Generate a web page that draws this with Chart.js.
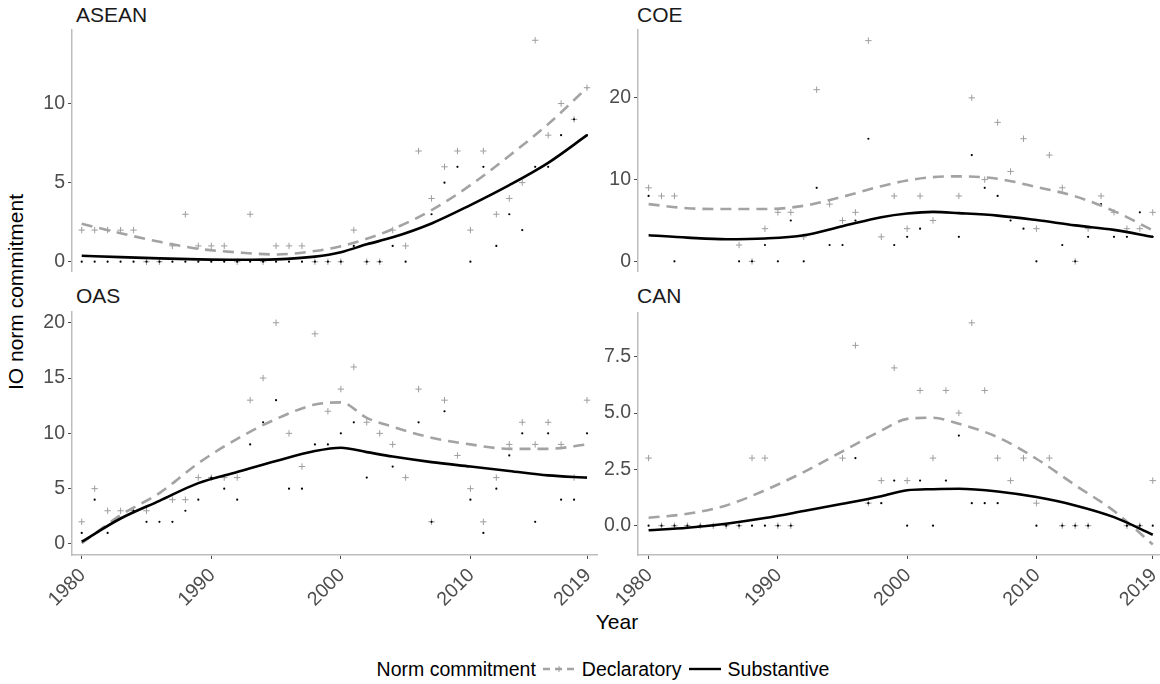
<!DOCTYPE html>
<html>
<head>
<meta charset="utf-8">
<script src="https://cdn.jsdelivr.net/npm/chart.js@4.4.1/dist/chart.umd.min.js"></script>
<style>
  body { margin: 0; width: 1160px; height: 684px; background: #fff; position: relative; overflow: hidden;
         font-family: "Liberation Sans", Arial, sans-serif; }
  canvas { position: absolute; }
  .strip { position: absolute; font-size: 21px; line-height: 1; color: #1a1a1a; white-space: nowrap; }
  .axtitle { position: absolute; font-size: 21px; line-height: 1; color: #000; white-space: nowrap; }
  #legend { position: absolute; left: 0; width: 1206px; top: 657px; height: 24px; display: flex;
            justify-content: center; align-items: center; font-size: 19.5px; color: #000; }
  #legend span { margin: 0 6px; }
  #legend canvas { position: static; }
</style>
</head>
<body>

<div class="strip" style="left:76px;top:4px">ASEAN</div>
<div class="strip" style="left:637px;top:4px">COE</div>
<div class="strip" style="left:76px;top:285px">OAS</div>
<div class="strip" style="left:637px;top:285px">CAN</div>
<div class="axtitle" style="left:617px;top:611px;transform:translateX(-50%)">Year</div>
<div class="axtitle" style="left:15px;top:292px;transform:translate(-50%,-50%) rotate(-90deg)">IO norm commitment</div>

<canvas id="asean" width="600" height="272" style="left:0;top:0"></canvas>
<canvas id="coe" width="580" height="272" style="left:580px;top:0"></canvas>
<canvas id="oas" width="600" height="330" style="left:0;top:290px"></canvas>
<canvas id="can" width="580" height="330" style="left:580px;top:290px"></canvas>

<div id="legend">
  <span>Norm commitment</span>
  <canvas id="keyDecl" width="34" height="20"></canvas>
  <span>Declaratory</span>
  <canvas id="keySubst" width="34" height="20"></canvas>
  <span>Substantive</span>
</div>

<script>
// years of observations
const years = [1980, 1981, 1982, 1983, 1984, 1985, 1986, 1987, 1988, 1989,
               1990, 1991, 1992, 1993, 1994, 1995, 1996, 1997, 1998, 1999,
               2000, 2001, 2002, 2003, 2004, 2005, 2006, 2007, 2008, 2009,
               2010, 2011, 2012, 2013, 2014, 2015, 2016, 2017, 2018, 2019];

// yearly counts (null = no mark)
const aseanDecl = [2, 2, 2, 2, 2, 0, 0, 1, 3, 1,
                   1, 1, 0, 3, 0, 1, 1, 1, 0, 0,
                   0, 2, 0, 0, 2, 1, 7, 4, 6, 7,
                   2, 7, 3, 4, 5, 14, 8, 10, 9, 11];
const aseanSubst = [0, 0, 0, 0, 0, 0, 0, 0, 0, 0,
                    0, 0, 0, 0, 0, 0, 0, 0, 0, 0,
                    0, 1, 0, 0, 1, 0, null, 3, 5, 6,
                    0, 6, 1, 3, 2, 6, 6, 8, 9, 8];

const coeDecl = [9, 8, 8, null, null, null, null, 2, 0, 4,
                 6, 6, 3, 21, 7, 5, 6, 27, 3, 8,
                 4, 8, 5, null, 8, 20, 10, 17, 11, 15,
                 4, 13, 9, 0, 4, 8, 6, 4, 4, 6];
const coeSubst = [8, null, 0, null, null, null, null, 0, 0, 2,
                  0, 5, 0, 9, 2, 2, 5, 15, null, 2,
                  3, 4, null, null, 3, 13, 9, 8, 5, 4,
                  0, null, 2, 0, 3, 7, 3, 3, 6, 3];

const oasDecl = [2, 5, 3, 3, 3, 3, null, 4, 4, 6,
                 6, 6, 6, 13, 15, 20, 10, 7, 19, 12,
                 14, 16, 11, 10, 9, 6, 14, 2, 13, 8,
                 5, 2, 6, 9, 11, 9, 11, 9, 6, 13];
const oasSubst = [1, 4, 1, null, 3, 2, 2, 2, 3, 4,
                  6, 5, 4, 9, 11, 13, 5, 5, 9, 9,
                  10, 11, 6, null, 7, null, 11, 2, 12, null,
                  4, 1, 5, 8, 10, 2, 10, 4, 4, 10];

const canDecl = [3, 0, 0, 0, 0, 0, 0, 0, 3, 3,
                 0, 0, null, null, null, 3, 8, 1, 2, 7,
                 2, 6, 3, 6, 5, 9, 6, 3, 2, 3,
                 1, 3, 0, 0, 0, null, null, 0, 0, 2];
const canSubst = [0, 0, 0, 0, 0, 0, 0, 0, 0, 0,
                  0, 0, null, null, null, null, 3, 1, 1, 2,
                  0, 2, 0, 2, 4, 1, 1, 1, null, null,
                  0, null, 0, 0, 0, null, null, 0, 0, 0];

// smoothed trend lines, read at these years
const smoothYears = [1980, 1983, 1986, 1989, 1992, 1995, 1998, 2000, 2002, 2004, 2007, 2010, 2013, 2016, 2019];
const aseanDeclFit  = [2.4, 1.8, 1.26, 0.82, 0.59, 0.46, 0.68, 0.98, 1.45, 2.06, 3.26, 4.84, 6.7, 8.7, 11.0];
const aseanSubstFit = [0.38, 0.29, 0.21, 0.15, 0.12, 0.15, 0.32, 0.6, 1.1, 1.54, 2.42, 3.58, 4.84, 6.25, 8.0];
const coeDeclFit    = [7.0, 6.5, 6.4, 6.4, 6.8, 7.9, 9.2, 9.9, 10.3, 10.4, 10.1, 9.1, 7.95, 6.15, 3.8];
const coeSubstFit   = [3.2, 2.9, 2.7, 2.8, 3.2, 4.3, 5.4, 5.85, 6.05, 5.9, 5.6, 5.05, 4.4, 3.85, 3.0];
const oasDeclFit    = [0.06, 2.6, 4.6, 7.3, 9.5, 11.3, 12.6, 12.8, 11.4, 10.6, 9.6, 9.0, 8.6, 8.6, 9.0];
const oasSubstFit   = [0.2, 2.3, 3.9, 5.5, 6.5, 7.5, 8.4, 8.7, 8.3, 7.9, 7.4, 7.0, 6.6, 6.2, 6.0];
const canDeclFit    = [0.35, 0.53, 0.9, 1.57, 2.38, 3.3, 4.22, 4.74, 4.79, 4.52, 3.93, 2.97, 1.8, 0.65, -0.83];
const canSubstFit   = [-0.2, -0.09, 0.09, 0.34, 0.65, 0.97, 1.31, 1.57, 1.62, 1.64, 1.52, 1.27, 0.9, 0.38, -0.4];

// tick labels
const yearTicks = [1980, 1990, 2000, 2010, 2019];
const aseanTicks = [0, 5, 10];
const coeTicks = [0, 10, 20];
const oasTicks = [0, 5, 10, 15, 20];
const canTicks = [0, 2.5, 5, 7.5];

const GREY = '#a3a3a3';
const AXIS = '#bdbdbd';
const TICKTXT = '#4d4d4d';
const FONT = '"Liberation Sans", Arial, sans-serif';

function pts(arr) {
    return years.map((yr, i) => ({ x: yr, y: arr[i] })).filter(p => p.y !== null);
}
function fit(arr) {
    return smoothYears.map((yr, i) => ({ x: yr, y: arr[i] }));
}

function panel(id, opt) {
    new Chart(document.getElementById(id), {
        data: {
            datasets: [
                { type: 'line', label: 'Substantive', data: fit(opt.substFit), borderColor: '#000',
                  borderWidth: 2.6, pointRadius: 0, cubicInterpolationMode: 'monotone', order: 1 },
                { type: 'line', label: 'Declaratory', data: fit(opt.declFit), borderColor: GREY,
                  borderWidth: 2.6, borderDash: [11, 7], pointRadius: 0, cubicInterpolationMode: 'monotone', order: 2 },
                { type: 'scatter', data: pts(opt.subst), pointStyle: 'circle', pointRadius: 1.1,
                  backgroundColor: '#000', borderWidth: 0, order: 3 },
                { type: 'scatter', data: pts(opt.decl), pointStyle: 'cross', pointRadius: 3.2,
                  borderColor: '#9e9e9e', borderWidth: 1, order: 4 }
            ]
        },
        options: {
            responsive: false,
            animation: false,
            events: [],
            layout: { autoPadding: false, padding: { top: opt.top, right: opt.right, left: 0, bottom: 0 } },
            plugins: { legend: { display: false }, tooltip: { enabled: false } },
            scales: {
                x: {
                    type: 'linear',
                    display: opt.showX,
                    min: opt.xmin,
                    max: opt.xmax,
                    grid: { display: true, drawOnChartArea: false, drawTicks: true, tickLength: 4, tickColor: TICKTXT },
                    border: { display: true, color: AXIS, width: 1.5 },
                    ticks: { font: { size: 19.5, family: FONT }, color: TICKTXT, padding: 5, labelOffset: 1,
                             minRotation: 45, maxRotation: 45, autoSkip: false,
                             callback: v => String(v) },
                    afterBuildTicks: s => { s.ticks = yearTicks.map(v => ({ value: v })); },
                    afterFit: s => {
                        if (opt.showX) s.height = 65;
                        s.paddingLeft = 0; s.paddingRight = 0;
                    }
                },
                y: {
                    min: opt.ymin,
                    max: opt.ymax,
                    grid: { display: true, drawOnChartArea: false, drawTicks: true, tickLength: 4, tickColor: TICKTXT },
                    border: { display: true, color: AXIS, width: 1.5 },
                    ticks: { font: { size: 19.5, family: FONT }, color: TICKTXT, padding: 3,
                             callback: opt.fmt },
                    afterBuildTicks: s => { s.ticks = opt.ticks.map(v => ({ value: v })); },
                    afterFit: s => { s.width = opt.yw; s.paddingTop = 0; s.paddingBottom = 0; }
                }
            }
        }
    });
}

panel('asean', { decl: aseanDecl, subst: aseanSubst, declFit: aseanDeclFit, substFit: aseanSubstFit,
    ticks: aseanTicks, ymin: -0.65, ymax: 14.65, yw: 72, top: 30, right: 3, showX: false,
    xmin: 1979.25, xmax: 2019.77, fmt: v => String(v) });
panel('coe', { decl: coeDecl, subst: coeSubst, declFit: coeDeclFit, substFit: coeSubstFit,
    ticks: coeTicks, ymin: -1.3, ymax: 28.3, yw: 58, top: 30, right: 0, showX: false,
    xmin: 1979.18, xmax: 2019.56, fmt: v => String(v) });
panel('oas', { decl: oasDecl, subst: oasSubst, declFit: oasDeclFit, substFit: oasSubstFit,
    ticks: oasTicks, ymin: -1, ymax: 21, yw: 72, top: 21.7, right: 3, showX: true,
    xmin: 1979.25, xmax: 2019.77, fmt: v => String(v) });
panel('can', { decl: canDecl, subst: canSubst, declFit: canDeclFit, substFit: canSubstFit,
    ticks: canTicks, ymin: -1.3, ymax: 9.45, yw: 58, top: 22.7, right: 0, showX: true,
    xmin: 1979.18, xmax: 2019.56, fmt: v => v.toFixed(1) });

// legend keys
(function () {
    let c = document.getElementById('keyDecl').getContext('2d');
    c.strokeStyle = GREY;
    c.lineWidth = 2.4;
    c.setLineDash([7, 5]);
    c.beginPath(); c.moveTo(1, 10); c.lineTo(33, 10); c.stroke();
    c.setLineDash([]);
    c.lineWidth = 1;
    c.strokeStyle = '#9e9e9e';
    c.beginPath(); c.moveTo(14, 10); c.lineTo(20, 10); c.moveTo(17, 7); c.lineTo(17, 13); c.stroke();

    c = document.getElementById('keySubst').getContext('2d');
    c.strokeStyle = '#000';
    c.lineWidth = 2.4;
    c.beginPath(); c.moveTo(1, 10); c.lineTo(33, 10); c.stroke();
})();
</script>
</body>
</html>
